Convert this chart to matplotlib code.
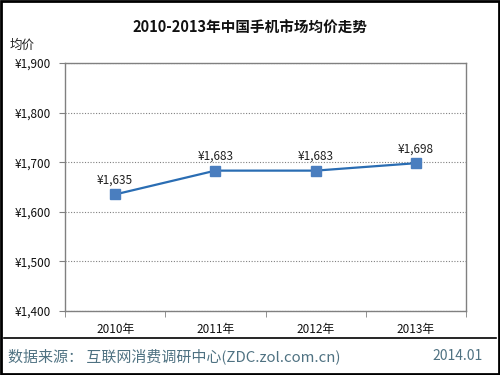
import matplotlib
matplotlib.use("Agg")
import matplotlib.pyplot as plt
from matplotlib.patches import Rectangle
from matplotlib.lines import Line2D
from matplotlib.ticker import FixedLocator, FuncFormatter

plt.rcParams['font.family'] = ['Noto Sans CJK SC', 'DejaVu Sans']

years = ['2010年', '2011年', '2012年', '2013年']
prices = [1635, 1683, 1683, 1698]
yticks = [1400, 1500, 1600, 1700, 1800, 1900]
title = '2010-2013年中国手机市场均价走势'
ylabel = '均价'
source = '数据来源： 互联网消费调研中心(ZDC.zol.com.cn)'
date = '2014.01'

fig = plt.figure(figsize=(5, 3.75), dpi=100)
ax = fig.add_axes([0.13, 0.1707, 0.802, 0.6613])

x = list(range(len(years)))
ax.plot(x, prices, color='#2a6db3', lw=1.6, marker='s', markersize=6.5,
        markerfacecolor='#4a7ebf', markeredgecolor='#4a7ebf', zorder=3)
for xi, v in zip(x, prices):
    ax.annotate('¥{:,}'.format(v), (xi, v), xytext=(0, 5.5), textcoords='offset points',
                ha='center', va='bottom', fontsize=8.5, color='#222222')

ax.set_xlim(-0.5, len(years) - 0.5)
ax.set_ylim(yticks[0], yticks[-1])
ax.set_yticks(yticks)
ax.yaxis.set_major_formatter(FuncFormatter(lambda v, p: '¥{:,}'.format(int(v))))
ax.set_xticks(x)
ax.set_xticklabels(years)
ax.xaxis.set_minor_locator(FixedLocator([i - 0.5 for i in range(len(years) + 1)]))
ax.tick_params(axis='x', which='major', length=0, pad=9, labelsize=8.5, colors='#111111')
ax.tick_params(axis='x', which='minor', length=4, color='#808080', direction='out')
ax.tick_params(axis='y', length=4, color='#808080', direction='out', pad=6,
               labelsize=8.5, labelcolor='#111111')
ax.grid(axis='y', linestyle=(0, (1, 1.5)), color='#808080', lw=0.8)
for s in ax.spines.values():
    s.set_color('#808080')
    s.set_linewidth(1.0)

fig.text(0.5, 0.925, title, ha='center', va='center', fontsize=10.5, fontweight='bold',
         color='#111111')
fig.text(0.02, 0.878, ylabel, ha='left', va='center', fontsize=9, color='#222222')

fig.add_artist(Line2D([0.008, 0.992], [0.098, 0.098], color='black', lw=1.2,
                      transform=fig.transFigure))
fig.text(0.016, 0.05, source, ha='left', va='center', fontsize=10.8, color='#4f7282')
fig.text(0.966, 0.05, date, ha='right', va='center', fontsize=10, color='#4f7282')

fig.add_artist(Rectangle((0.002, 0.003), 0.996, 0.994, transform=fig.transFigure,
                         fill=False, edgecolor='black', lw=2))

fig.savefig('out.png', dpi=100)
